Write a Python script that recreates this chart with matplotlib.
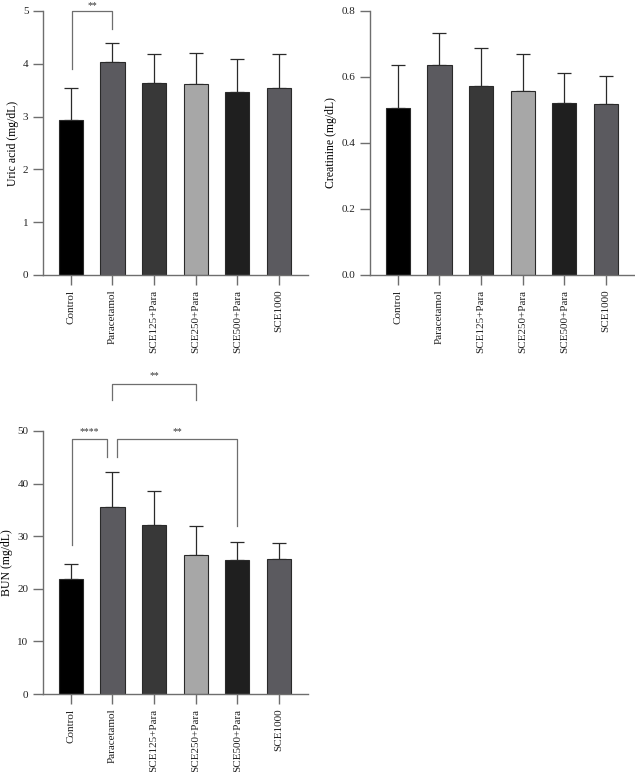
import matplotlib
matplotlib.use("Agg")
import matplotlib.pyplot as plt
import numpy as np

plt.rcParams['font.family'] = ['Liberation Serif', 'DejaVu Serif']

groups = ["Control", "Paracetamol", "SCE125+Para", "SCE250+Para", "SCE500+Para", "SCE1000"]
bar_colors = ["#000000", "#5b5a5f", "#383838", "#a7a7a7", "#1f1f1f", "#5b5a5f"]

uric_mean = [2.94, 4.03, 3.64, 3.61, 3.46, 3.54]
uric_err = [0.61, 0.37, 0.55, 0.60, 0.63, 0.64]

creat_mean = [0.505, 0.636, 0.573, 0.559, 0.522, 0.518]
creat_err = [0.131, 0.097, 0.116, 0.111, 0.091, 0.084]

bun_mean = [21.9, 35.5, 32.2, 26.4, 25.5, 25.7]
bun_err = [2.9, 6.7, 6.4, 5.6, 3.4, 3.1]

axis_col = "#6e6e6e"


def draw_panel(ax, means, errs, ylim, yticks, ylabel, fmt):
    x = np.arange(len(groups))
    ax.bar(x, means, width=0.58, color=bar_colors, edgecolor="#2a2a2a", linewidth=0.8, zorder=2)
    ax.errorbar(x, means, yerr=[np.zeros(len(errs)), errs], fmt="none",
                ecolor="#2a2a2a", elinewidth=0.9, capsize=5, capthick=0.9, zorder=1)
    ax.set_xlim(-0.67, 5.7)
    ax.set_ylim(*ylim)
    ax.set_yticks(yticks)
    ax.set_yticklabels([fmt.format(v) for v in yticks])
    ax.set_xticks(x)
    ax.set_xticklabels(groups, rotation=90)
    ax.set_ylabel(ylabel, fontsize=8.5, labelpad=3)
    for s in ["top", "right"]:
        ax.spines[s].set_visible(False)
    for s in ["left", "bottom"]:
        ax.spines[s].set_color(axis_col)
        ax.spines[s].set_linewidth(1.0)
    ax.tick_params(axis="both", colors=axis_col, length=7, width=1.0, labelsize=8, labelcolor="#222222")


def bracket(ax, x1, x2, y, y1, y2, text, ty):
    ax.plot([x1, x1, x2, x2], [y1, y, y, y2], color=axis_col, linewidth=0.9, clip_on=False)
    ax.text((x1 + x2) / 2, ty, text, ha="center", va="bottom", fontsize=7, color="#333333", clip_on=False)


fig = plt.figure(figsize=(6.35, 7.72), dpi=100)

ax1 = fig.add_axes([43 / 635, 1 - 275 / 772, 265 / 635, 264 / 772])
draw_panel(ax1, uric_mean, uric_err, (0, 5), [0, 1, 2, 3, 4, 5], "Uric acid (mg/dL)", "{:.0f}")
bracket(ax1, 0.02, 1.0, 5.0, 3.9, 4.66, "**", 5.02)

ax2 = fig.add_axes([370 / 635, 1 - 275 / 772, 265 / 635, 264 / 772])
draw_panel(ax2, creat_mean, creat_err, (0, 0.8), [0.0, 0.2, 0.4, 0.6, 0.8], "Creatinine (mg/dL)", "{:.1f}")

ax3 = fig.add_axes([43 / 635, 1 - 694 / 772, 265 / 635, 263 / 772])
draw_panel(ax3, bun_mean, bun_err, (0, 50), [0, 10, 20, 30, 40, 50], "BUN (mg/dL)", "{:.0f}")
bracket(ax3, 0.02, 0.88, 48.4, 28.3, 45.0, "****", 49.1)
bracket(ax3, 1.12, 4.0, 48.4, 45.0, 32.0, "**", 49.1)
bracket(ax3, 1.0, 3.0, 58.9, 55.9, 55.9, "**", 59.6)

fig.savefig("out.png", dpi=100)
